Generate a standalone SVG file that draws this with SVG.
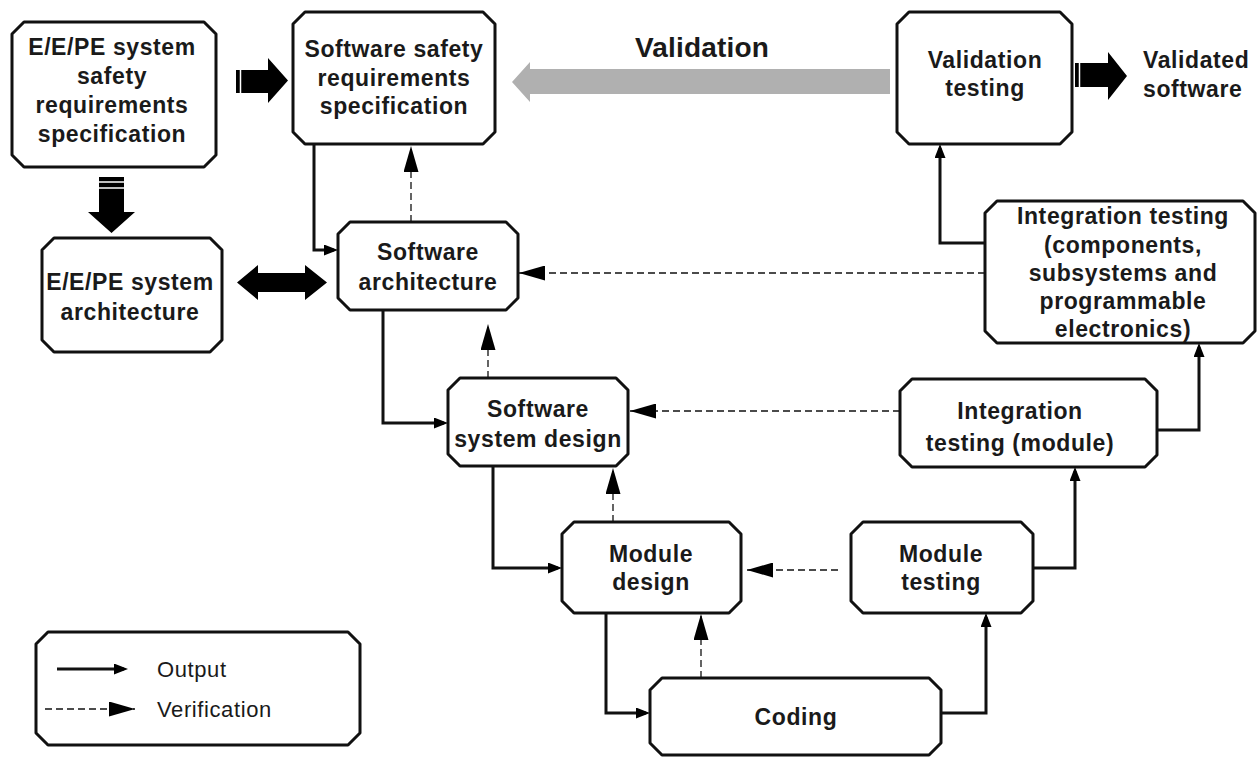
<svg xmlns="http://www.w3.org/2000/svg" width="1258" height="757" viewBox="0 0 1258 757">
<style>
.box{fill:#fff;stroke:#111;stroke-width:3;stroke-linejoin:round}
.t{font-family:"Liberation Sans",Arial,sans-serif;font-weight:bold;font-size:23px;letter-spacing:0.6px;fill:#1a1a1a;text-anchor:middle}
.lg{font-family:"Liberation Sans",Arial,sans-serif;font-size:22px;letter-spacing:0.6px;fill:#1a1a1a}
.out{fill:none;stroke:#111;stroke-width:3}
.ver{fill:none;stroke:#111;stroke-width:1.3;stroke-dasharray:7 4}
.big{fill:#000}
</style>
<defs>
<marker id="mo" markerUnits="userSpaceOnUse" viewBox="0 0 14 11" markerWidth="14" markerHeight="11" refX="10" refY="5.5" orient="auto"><path d="M0,0 L14,5.5 L0,11 z" fill="#000"/></marker>
<marker id="mv" markerUnits="userSpaceOnUse" viewBox="0 0 26 15" markerWidth="26" markerHeight="15" refX="26" refY="7.5" orient="auto"><path d="M0,0 L26,7.5 L0,15 z" fill="#000"/></marker>
</defs>

<g id="big-arrows">
<path class="big" d="M236,70 H268 V58 L288,80.5 L268,103 V93 H236 Z"/>
<line x1="240.5" y1="69" x2="240.5" y2="94" stroke="#fff" stroke-width="1.5"/>
<path class="big" d="M99,177 H124 V212 H135 L111.5,233 L88,212 H99 Z"/>
<line x1="98" y1="182" x2="125" y2="182" stroke="#fff" stroke-width="1.5"/>
<line x1="98" y1="188" x2="125" y2="188" stroke="#fff" stroke-width="1.5"/>
<path class="big" d="M237,282.5 L258,265 V273 H305 V265 L327,282.5 L305,300 V292 H258 V300 Z"/>
<path class="big" d="M1075,63 H1108 V52 L1127,76 L1108,100 V87 H1075 Z"/>
<line x1="1079.5" y1="62" x2="1079.5" y2="88" stroke="#fff" stroke-width="1.5"/>
<path fill="#b0b0b0" d="M512,82 L530,62 V69 H890 V94 H530 V102 Z"/>
<text x="702" y="57" class="t" style="font-size:28px;letter-spacing:0.2px">Validation</text>
</g>

<g id="n-eepe-srs">
<path class="box" d="M24,22 H204 L216,34 V155 L204,167 H24 L12,155 V34 Z"/>
<text class="t" x="112" y="55">E/E/PE system</text>
<text class="t" x="112" y="84">safety</text>
<text class="t" x="112" y="113">requirements</text>
<text class="t" x="112" y="142">specification</text>
</g>

<g id="n-ssrs">
<path class="box" d="M305,12 H483 L495,24 V132 L483,144 H305 L293,132 V24 Z"/>
<text class="t" x="394" y="57">Software safety</text>
<text class="t" x="394" y="86">requirements</text>
<text class="t" x="394" y="114">specification</text>
</g>

<g id="n-eepe-arch">
<path class="box" d="M54,238 H210 L222,250 V340 L210,352 H54 L42,340 V250 Z"/>
<text class="t" x="130" y="290">E/E/PE system</text>
<text class="t" x="130" y="320">architecture</text>
</g>

<g id="n-sw-arch">
<path class="box" d="M350,222 H506 L518,234 V298 L506,310 H350 L338,298 V234 Z"/>
<text class="t" x="428" y="260">Software</text>
<text class="t" x="428" y="290">architecture</text>
</g>

<g id="n-val-test">
<path class="box" d="M909,12 H1060 L1072,24 V132 L1060,144 H909 L897,132 V24 Z"/>
<text class="t" x="985" y="68">Validation</text>
<text class="t" x="985" y="96">testing</text>
</g>

<g id="n-validated">
<text class="t" x="1143" y="68" style="text-anchor:start">Validated</text>
<text class="t" x="1143" y="97" style="text-anchor:start">software</text>
</g>

<g id="n-int-comp">
<path class="box" d="M997,201 H1243 L1255,213 V331 L1243,343 H997 L985,331 V213 Z"/>
<text class="t" x="1123" y="224">Integration testing</text>
<text class="t" x="1123" y="253">(components,</text>
<text class="t" x="1123" y="281">subsystems and</text>
<text class="t" x="1123" y="309">programmable</text>
<text class="t" x="1123" y="337">electronics)</text>
</g>

<g id="n-ssd">
<path class="box" d="M460,378 H616 L628,390 V454 L616,466 H460 L448,454 V390 Z"/>
<text class="t" x="538" y="417">Software</text>
<text class="t" x="538" y="447">system design</text>
</g>

<g id="n-int-mod">
<path class="box" d="M912,379 H1145 L1157,391 V455 L1145,467 H912 L900,455 V391 Z"/>
<text class="t" x="1020" y="419">Integration</text>
<text class="t" x="1020" y="451">testing (module)</text>
</g>

<g id="n-mod-design">
<path class="box" d="M574,522 H729 L741,534 V601 L729,613 H574 L562,601 V534 Z"/>
<text class="t" x="651" y="562">Module</text>
<text class="t" x="651" y="590">design</text>
</g>

<g id="n-mod-test">
<path class="box" d="M863,522 H1021 L1033,534 V601 L1021,613 H863 L851,601 V534 Z"/>
<text class="t" x="941" y="562">Module</text>
<text class="t" x="941" y="590">testing</text>
</g>

<g id="n-coding">
<path class="box" d="M662,678 H929 L941,690 V743 L929,755 H662 L650,743 V690 Z"/>
<text class="t" x="796" y="725">Coding</text>
</g>

<g id="connectors">
<path class="out" d="M314,144 V250 H334" marker-end="url(#mo)"/>
<path class="out" d="M383,310 V423 H444" marker-end="url(#mo)"/>
<path class="out" d="M493,466 V568 H558" marker-end="url(#mo)"/>
<path class="out" d="M606,613 V713 H646" marker-end="url(#mo)"/>
<path class="out" d="M941,713 H986 V617" marker-end="url(#mo)"/>
<path class="out" d="M1033,568 H1075 V471" marker-end="url(#mo)"/>
<path class="out" d="M1157,430 H1199 V347" marker-end="url(#mo)"/>
<path class="out" d="M985,243 H940 V148" marker-end="url(#mo)"/>

<path class="ver" d="M411,222 V146" marker-end="url(#mv)"/>
<path class="ver" d="M488,378 V324" marker-end="url(#mv)"/>
<path class="ver" d="M613,522 V468" marker-end="url(#mv)"/>
<path class="ver" d="M701,678 V614" marker-end="url(#mv)"/>
<path class="ver" d="M985,273 H519" marker-end="url(#mv)"/>
<path class="ver" d="M900,411 H630" marker-end="url(#mv)"/>
<path class="ver" d="M838,570 H747" marker-end="url(#mv)"/>
</g>

<g id="legend">
<path class="box" d="M48,632 H348 L360,644 V733 L348,745 H48 L36,733 V644 Z"/>
<path class="out" d="M57,669 H124" marker-end="url(#mo)"/>
<path class="ver" d="M45,709 H135" marker-end="url(#mv)"/>
<text class="lg" x="157" y="677">Output</text>
<text class="lg" x="157" y="717">Verification</text>
</g>
</svg>
